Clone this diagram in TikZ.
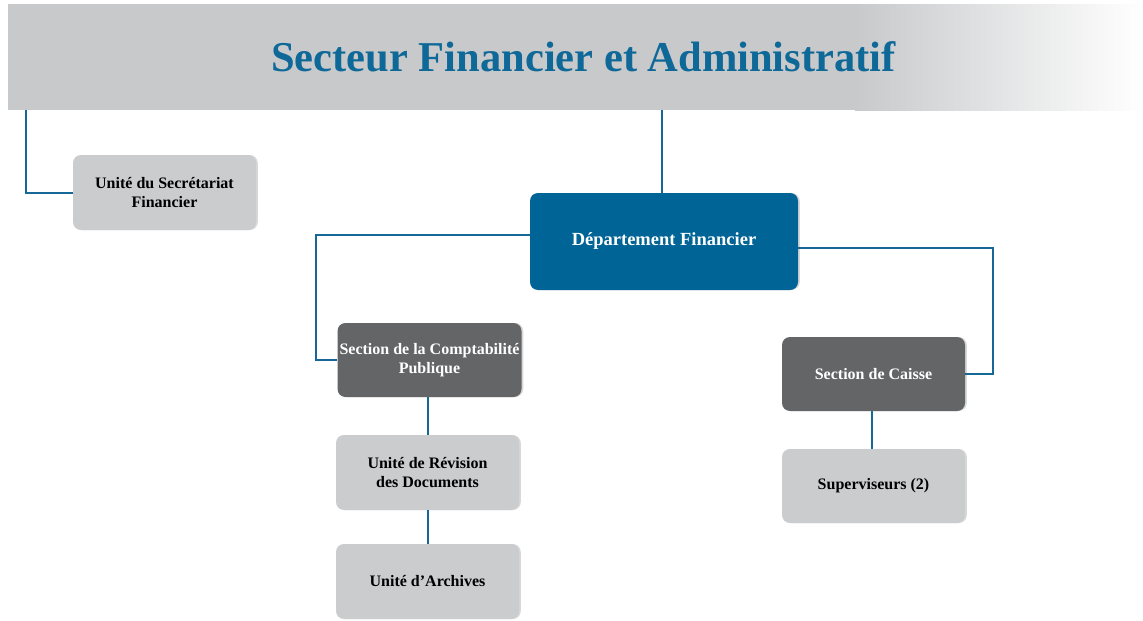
\documentclass[tikz,border=0pt]{standalone}
\usepackage{fontspec}
\setmainfont{Liberation Serif}
\usetikzlibrary{shadows}
\definecolor{hdrgray}{RGB}{200,201,203}
\definecolor{titleblue}{RGB}{14,104,152}
\definecolor{depblue}{RGB}{0,100,150}
\definecolor{darkbox}{RGB}{100,101,103}
\definecolor{lightbox}{RGB}{203,204,206}
\definecolor{linkblue}{RGB}{22,104,150}
\begin{document}
\begin{tikzpicture}[x=1pt,y=-1pt,
  box/.style={rectangle, rounded corners=8pt, minimum width=183pt, minimum height=75pt,
    align=center, font=\fontsize{16}{19}\selectfont\bfseries, inner sep=2pt,
    drop shadow={shadow xshift=1.8pt, shadow yshift=0pt, opacity=.3}},
  lightunit/.style={box, fill=lightbox, text=black},
  darkunit/.style={box, fill=darkbox, text=white},
  deptbox/.style={box, fill=depblue, text=white, minimum width=268pt, minimum height=97pt,
    font=\fontsize{18.5}{22}\selectfont\bfseries},
  link/.style={draw=linkblue, line width=2pt}]
\useasboundingbox (0,0) rectangle (1143,621);
\fill[white] (0,0) rectangle (1143,621);
% header band
\fill[hdrgray] (8,4) rectangle (856,110);
\shade[left color=hdrgray, right color=white] (855,4) rectangle (1143,110);
\node[inner sep=0pt, minimum width=1135pt, minimum height=106pt, anchor=north west] (hdr) at (8,4) {};
\node[text=titleblue, font=\fontsize{42.5}{50}\selectfont\bfseries] (title) at (583.5,57) {Secteur Financier et Administratif};
% boxes
\node[lightunit] (sec) at (164.5,192.5) {Unité du Secrétariat\\Financier};
\node[deptbox] (dep) at (664,241.5) {Département Financier};
\node[darkunit, minimum height=74pt] (comp) at (429.5,360) {Section de la Comptabilité\\Publique};
\node[darkunit, minimum height=74pt] (caisse) at (873.5,374) {Section de Caisse};
\node[lightunit, minimum height=74pt] (sup) at (873.5,486) {Superviseurs (2)};
\node[lightunit] (rev) at (427.5,472.5) {Unité de Révision\\des Documents};
\node[lightunit] (arch) at (427.5,581.5) {Unité d’Archives};
% connectors
\draw[link] ([xshift=18pt]hdr.south west) |- (sec.west);
\draw[link] ([xshift=-2pt]dep.north |- hdr.south) -- ([xshift=-2pt]dep.north);
\draw[link] ([yshift=6.5pt]dep.west) -- ++(-214,0) |- (comp.west);
\draw[link] ([yshift=-6.5pt]dep.east) -- ++(195,0) |- (caisse.east);
\draw[link] ([xshift=-1.5pt]comp.south) -- ([xshift=0.5pt]rev.north);
\draw[link] ([xshift=0.5pt]rev.south) -- ([xshift=0.5pt]arch.north);
\draw[link] ([xshift=-1.5pt]caisse.south) -- ([xshift=-1.5pt]sup.north);
\end{tikzpicture}
\end{document}
